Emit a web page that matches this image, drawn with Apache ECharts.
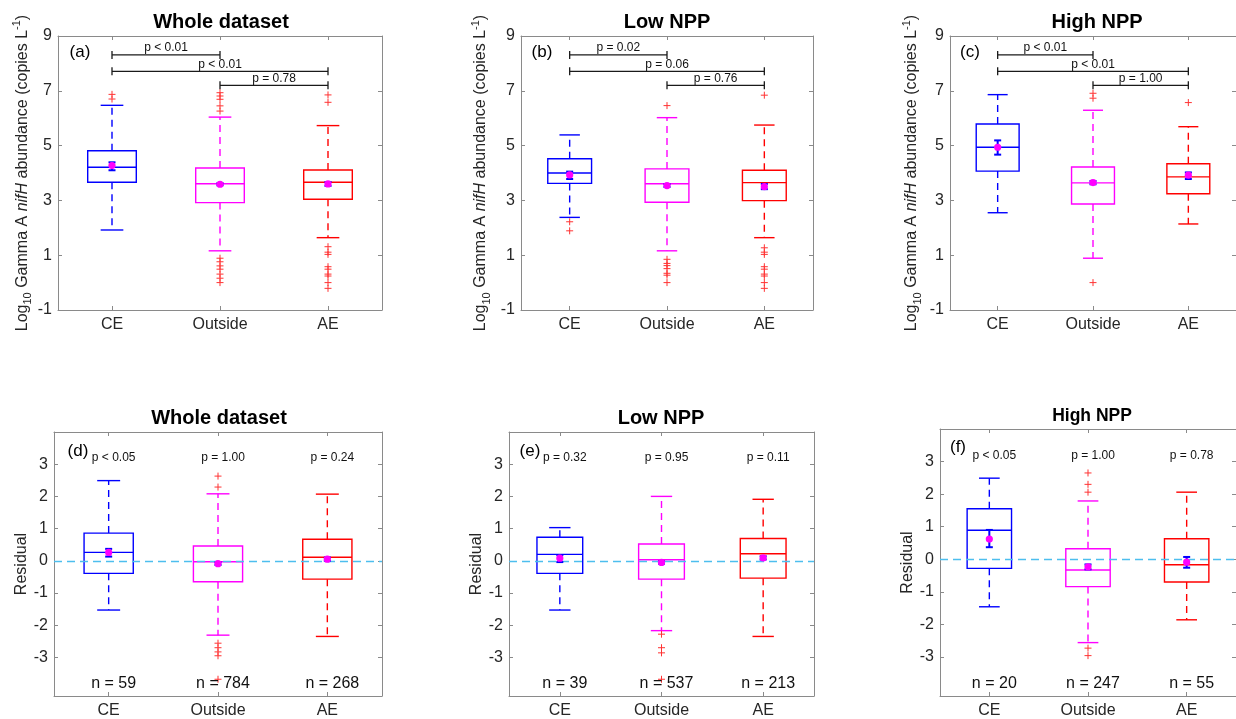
<!DOCTYPE html>
<html><head><meta charset="utf-8">
<script src="https://cdn.jsdelivr.net/npm/echarts@6/dist/echarts.min.js"></script>
<style>html,body{margin:0;padding:0;background:#fff}#c{width:1236px;height:719px}</style>
</head><body><div id="c"></div>
<script>
// ---------------- DATA ----------------
const categories = ['CE', 'Outside', 'AE'];
const panelTitles = ['Whole dataset', 'Low NPP', 'High NPP', 'Whole dataset', 'Low NPP', 'High NPP'];
const panelLetters = ['(a)', '(b)', '(c)', '(d)', '(e)', '(f)'];
const topTicks = [-1, 1, 3, 5, 7, 9];
const bottomTicks = [-3, -2, -1, 0, 1, 2, 3];

// box stats per category: [lower whisker, Q1, median, Q3, upper whisker]
const boxA = [[1.92, 3.66, 4.21, 4.81, 6.47], [1.16, 2.92, 3.61, 4.18, 6.04], [1.64, 3.04, 3.66, 4.11, 5.73]];
const boxB = [[2.38, 3.62, 4.00, 4.52, 5.39], [1.16, 2.93, 3.61, 4.15, 6.02], [1.64, 2.99, 3.65, 4.10, 5.75]];
const boxC = [[2.55, 4.07, 4.94, 5.79, 6.86], [0.89, 2.87, 3.64, 4.22, 6.29], [2.14, 3.24, 3.86, 4.34, 5.69]];
const boxD = [[-1.53, -0.39, 0.26, 0.86, 2.49], [-2.31, -0.65, -0.03, 0.46, 2.08], [-2.35, -0.57, 0.11, 0.67, 2.07]];
const boxE = [[-1.53, -0.39, 0.20, 0.73, 1.03], [-2.17, -0.57, 0.03, 0.52, 2.00], [-2.35, -0.54, 0.22, 0.69, 1.91]];
const boxF = [[-1.46, -0.28, 0.89, 1.55, 2.49], [-2.56, -0.84, -0.33, 0.32, 1.79], [-1.86, -0.70, -0.17, 0.63, 2.06]];

// mean with error bar: [mean, low, high]
const meanA = [[4.27, 4.10, 4.39], [3.59, 3.55, 3.63], [3.60, 3.53, 3.67]];
const meanB = [[3.93, 3.78, 4.05], [3.54, 3.49, 3.59], [3.50, 3.41, 3.60]];
const meanC = [[4.94, 4.67, 5.19], [3.65, 3.59, 3.71], [3.92, 3.78, 4.02]];
const meanD = [[0.26, 0.13, 0.37], [-0.09, -0.13, -0.05], [0.05, 0.00, 0.10]];
const meanE = [[0.08, -0.04, 0.18], [-0.05, -0.09, -0.01], [0.09, 0.04, 0.14]];
const meanF = [[0.62, 0.37, 0.90], [-0.23, -0.31, -0.16], [-0.09, -0.26, 0.07]];

// outliers per category
const outA = [[6.87, 6.70], [6.93, 6.81, 6.69, 6.45, 6.26, 0.89, 0.76, 0.61, 0.49, 0.31, 0.16, 0.00], [6.85, 6.58, 1.31, 1.11, 1.03, 0.58, 0.49, 0.31, 0.24, 0.00, -0.21]];
const outB = [[2.22, 1.89], [6.46, 0.85, 0.70, 0.62, 0.51, 0.34, 0.27, 0.00], [6.84, 1.27, 1.11, 1.03, 0.58, 0.49, 0.31, 0.24, 0.00, -0.21]];
const outC = [[], [6.91, 6.73, 0.00], [6.57]];
const outD = [[], [2.63, 2.29, -2.56, -2.70, -2.83, -2.95, -3.68], []];
const outE = [[], [-2.28, -2.70, -2.86, -3.68], []];
const outF = [[], [2.65, 2.30, 2.06, -2.73, -2.96], []];

// significance brackets for top panels: [from category, to category, level]
const bracketPairs = [[0, 1, 8.31], [0, 2, 7.71], [1, 2, 7.20]];
const bracketLabelsA = ['p < 0.01', 'p < 0.01', 'p = 0.78'];
const bracketLabelsB = ['p = 0.02', 'p = 0.06', 'p = 0.76'];
const bracketLabelsC = ['p < 0.01', 'p < 0.01', 'p = 1.00'];

// bottom panel annotations
const pLabelsD = ['p < 0.05', 'p = 1.00', 'p = 0.24'];
const pLabelsE = ['p = 0.32', 'p = 0.95', 'p = 0.11'];
const pLabelsF = ['p < 0.05', 'p = 1.00', 'p = 0.78'];
const nD = [59, 784, 268];
const nE = [39, 537, 213];
const nF = [20, 247, 55];
const pLabelLevel = 3.19;
const nLabelLevel = -3.82;

// ---------------- LAYOUT / STYLE ----------------
const FONT = 'Liberation Sans, Arial, Helvetica, sans-serif';
const catColors = ['#0000FF', '#FF00FF', '#FF0000'];
const axisGray = '#8a8a8a';
const textDark = '#262626';

const grids = [
  { left: 58, top: 36, width: 324, height: 274 },
  { left: 521, top: 36, width: 292, height: 274 },
  { left: 950, top: 36, width: 294, height: 274 },
  { left: 54, top: 432, width: 328, height: 265 },
  { left: 509, top: 432, width: 305, height: 265 },
  { left: 940, top: 429, width: 305, height: 268 }
];
const nameGaps = [23, 29, 27, 21, 24, 24];
const titlePos = [[221, 22, 20], [667, 22, 20], [1097, 22, 20], [219, 418, 20], [661, 418, 20], [1092, 416, 17.5]];
const letterPos = [[80, 52], [542, 52], [970, 52], [78, 451], [530, 451], [958, 447]];

const panels = [
  { box: boxA, mean: meanA, out: outA, br: bracketLabelsA },
  { box: boxB, mean: meanB, out: outB, br: bracketLabelsB },
  { box: boxC, mean: meanC, out: outC, br: bracketLabelsC },
  { box: boxD, mean: meanD, out: outD, p: pLabelsD, n: nD },
  { box: boxE, mean: meanE, out: outE, p: pLabelsE, n: nE },
  { box: boxF, mean: meanF, out: outF, p: pLabelsF, n: nF }
];

const topName = '{b|Log}{s|10}{b| Gamma A }{i|nifH}{b| abundance (copies L}{u|-1}{b|)}';
const topNameRich = {
  b: { fontSize: 16, fontFamily: FONT, color: textDark, lineHeight: 22 },
  i: { fontSize: 16, fontFamily: FONT, color: textDark, fontStyle: 'italic', lineHeight: 22 },
  s: { fontSize: 11, fontFamily: FONT, color: textDark, verticalAlign: 'bottom', lineHeight: 22 },
  u: { fontSize: 11, fontFamily: FONT, color: textDark, verticalAlign: 'top', lineHeight: 22 }
};

// ---------------- RENDERERS ----------------
function boxRender(params, api) {
  const c = api.value(0);
  const x = api.coord([c, 0])[0];
  const band = api.size([1, 0])[0];
  const y = i => api.coord([c, api.value(i)])[1];
  const lo = y(1), q1 = y(2), md = y(3), q3 = y(4), hi = y(5);
  const hw = band * 0.225, cw = band * 0.105;
  const col = catColors[c];
  const solid = { stroke: col, lineWidth: 1.4, fill: null };
  const dashed = { stroke: col, lineWidth: 1.4, lineDash: [7, 5], fill: null };
  return {
    type: 'group', children: [
      { type: 'line', shape: { x1: x, y1: q3, x2: x, y2: hi }, style: dashed },
      { type: 'line', shape: { x1: x, y1: q1, x2: x, y2: lo }, style: dashed },
      { type: 'line', shape: { x1: x - cw, y1: hi, x2: x + cw, y2: hi }, style: solid },
      { type: 'line', shape: { x1: x - cw, y1: lo, x2: x + cw, y2: lo }, style: solid },
      { type: 'rect', shape: { x: x - hw, y: q3, width: 2 * hw, height: q1 - q3 }, style: { stroke: col, lineWidth: 1.4, fill: 'none' } },
      { type: 'line', shape: { x1: x - hw, y1: md, x2: x + hw, y2: md }, style: solid }
    ]
  };
}
function meanRender(params, api) {
  const c = api.value(0);
  const p = api.coord([c, api.value(1)]);
  const lo = api.coord([c, api.value(2)])[1];
  const hi = api.coord([c, api.value(3)])[1];
  const st = { stroke: '#0000FF', lineWidth: 2 };
  return {
    type: 'group', children: [
      { type: 'line', shape: { x1: p[0], y1: lo, x2: p[0], y2: hi }, style: st },
      { type: 'line', shape: { x1: p[0] - 3.5, y1: lo, x2: p[0] + 3.5, y2: lo }, style: st },
      { type: 'line', shape: { x1: p[0] - 3.5, y1: hi, x2: p[0] + 3.5, y2: hi }, style: st },
      { type: 'circle', shape: { cx: p[0], cy: p[1], r: 3.6 }, style: { fill: '#FF00FF' } }
    ]
  };
}
function outRender(params, api) {
  const p = api.coord([api.value(0), api.value(1)]);
  const st = { stroke: '#FF3333', lineWidth: 1 };
  const s = 3.5;
  return {
    type: 'group', children: [
      { type: 'line', shape: { x1: p[0] - s, y1: p[1], x2: p[0] + s, y2: p[1] }, style: st },
      { type: 'line', shape: { x1: p[0], y1: p[1] - s, x2: p[0], y2: p[1] + s }, style: st }
    ]
  };
}
function makeBracketRender(labels) {
  return function (params, api) {
    const a = api.coord([api.value(0), api.value(2)]);
    const b = api.coord([api.value(1), api.value(2)]);
    const st = { stroke: '#1a1a1a', lineWidth: 1.3 };
    return {
      type: 'group', children: [
        { type: 'line', shape: { x1: a[0], y1: a[1], x2: b[0], y2: b[1] }, style: st },
        { type: 'line', shape: { x1: a[0], y1: a[1] - 4, x2: a[0], y2: a[1] + 4 }, style: st },
        { type: 'line', shape: { x1: b[0], y1: b[1] - 4, x2: b[0], y2: b[1] + 4 }, style: st },
        { type: 'text', x: (a[0] + b[0]) / 2, y: a[1] - 7, style: { text: labels[params.dataIndex], fill: '#111', font: '12px ' + FONT, align: 'center', verticalAlign: 'middle' } }
      ]
    };
  };
}
function makeAnnRender(pl, nl) {
  return function (params, api) {
    const c = api.value(0);
    const pp = api.coord([c, api.value(1)]);
    const pn = api.coord([c, api.value(2)]);
    return {
      type: 'group', children: [
        { type: 'text', x: pp[0] + 5, y: pp[1], style: { text: pl[params.dataIndex], fill: '#111', font: '12px ' + FONT, align: 'center', verticalAlign: 'middle' } },
        { type: 'text', x: pn[0] + 5, y: pn[1], style: { text: 'n = ' + nl[params.dataIndex], fill: '#111', font: '16px ' + FONT, align: 'center', verticalAlign: 'middle' } }
      ]
    };
  };
}

// ---------------- BUILD OPTION ----------------
const xAxes = [], yAxes = [], series = [], graphics = [];
panels.forEach((pn, g) => {
  const isTop = g < 3;
  const ticks = isTop ? topTicks : bottomTicks;
  const lineCfg = { show: true, onZero: false, lineStyle: { color: axisGray, width: 1 } };
  const tickCfg = { show: true, inside: true, length: 4, lineStyle: { color: axisGray, width: 1 } };
  xAxes.push({
    gridIndex: g, type: 'category', data: categories, position: 'bottom',
    axisLine: lineCfg, axisTick: Object.assign({ alignWithLabel: true }, tickCfg),
    axisLabel: { color: textDark, fontSize: 16, fontFamily: FONT, margin: 7 },
    splitLine: { show: false }
  });
  xAxes.push({
    gridIndex: g, type: 'category', data: categories, position: 'top',
    axisLine: lineCfg, axisTick: Object.assign({ alignWithLabel: true }, tickCfg),
    axisLabel: { show: false }, splitLine: { show: false }
  });
  const yBase = {
    gridIndex: g, type: 'value', min: isTop ? -1 : -4.2, max: isTop ? 9 : 4,
    axisLine: lineCfg,
    axisTick: Object.assign({ customValues: ticks }, tickCfg),
    splitLine: { show: false }
  };
  yAxes.push(Object.assign({}, yBase, {
    position: 'left',
    axisLabel: { customValues: ticks, color: textDark, fontSize: 16, fontFamily: FONT, margin: 6 },
    name: isTop ? topName : 'Residual', nameLocation: 'middle', nameRotate: 90, nameGap: nameGaps[g],
    nameTextStyle: isTop ? { rich: topNameRich } : { fontSize: 16, fontFamily: FONT, color: textDark }
  }));
  yAxes.push(Object.assign({}, yBase, { position: 'right', axisLabel: { show: false } }));

  const xi = 2 * g, yi = 2 * g;
  const boxSeries = {
    type: 'custom', xAxisIndex: xi, yAxisIndex: yi, renderItem: boxRender, z: 3,
    encode: { x: 0, y: [1, 2, 3, 4, 5] },
    data: pn.box.map((s, c) => [c].concat(s))
  };
  if (!isTop) {
    boxSeries.markLine = {
      silent: true, symbol: ['none', 'none'], label: { show: false },
      lineStyle: { color: '#4DBEEE', type: [8, 5], width: 1.3 },
      data: [{ yAxis: 0 }]
    };
  }
  series.push(boxSeries);
  const outData = [];
  pn.out.forEach((arr, c) => arr.forEach(v => outData.push([c, v])));
  series.push({ type: 'custom', xAxisIndex: xi, yAxisIndex: yi, renderItem: outRender, z: 4, encode: { x: 0, y: 1 }, data: outData });
  series.push({ type: 'custom', xAxisIndex: xi, yAxisIndex: yi, renderItem: meanRender, z: 5, encode: { x: 0, y: [1, 2, 3] }, data: pn.mean.map((m, c) => [c].concat(m)) });
  if (isTop) {
    series.push({ type: 'custom', xAxisIndex: xi, yAxisIndex: yi, renderItem: makeBracketRender(pn.br), z: 6, encode: { x: [0, 1], y: 2 }, data: bracketPairs });
  } else {
    series.push({ type: 'custom', xAxisIndex: xi, yAxisIndex: yi, renderItem: makeAnnRender(pn.p, pn.n), z: 6, encode: { x: 0, y: [1, 2] }, data: categories.map((_, c) => [c, pLabelLevel, nLabelLevel]) });
  }
  graphics.push({ type: 'text', x: titlePos[g][0], y: titlePos[g][1], style: { text: panelTitles[g], fill: '#000', font: 'bold ' + titlePos[g][2] + 'px ' + FONT, align: 'center', verticalAlign: 'middle' } });
  graphics.push({ type: 'text', x: letterPos[g][0], y: letterPos[g][1], style: { text: panelLetters[g], fill: '#000', font: '17px ' + FONT, align: 'center', verticalAlign: 'middle' } });
});

const chart = echarts.init(document.getElementById('c'), null, { renderer: 'canvas' });
chart.setOption({
  animation: false,
  backgroundColor: '#fff',
  grid: grids,
  xAxis: xAxes,
  yAxis: yAxes,
  series: series,
  graphic: graphics
});
</script></body></html>
